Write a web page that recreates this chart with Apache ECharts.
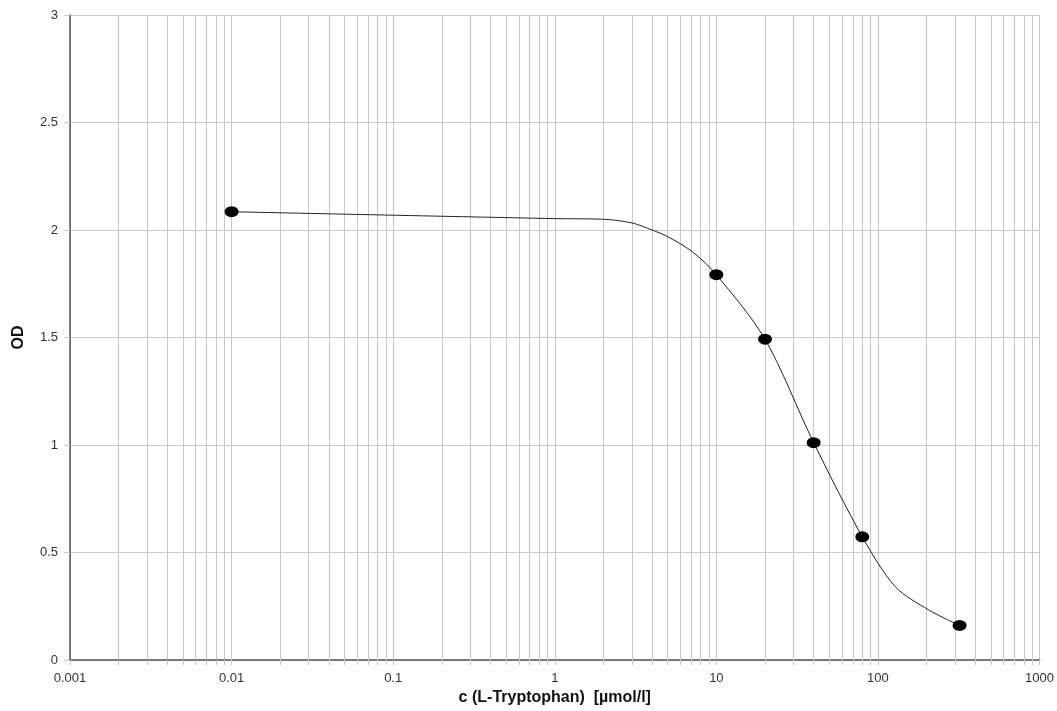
<!DOCTYPE html>
<html>
<head>
<meta charset="utf-8">
<script src="https://cdn.jsdelivr.net/npm/echarts@6/dist/echarts.min.js"></script>
<style>
  html, body { margin: 0; padding: 0; background: #fff; }
  #chart { width: 1057px; height: 711px; }
</style>
</head>
<body>
<div id="chart"></div>
<script>
// measured points
const concentrations = [0.01, 10, 20, 40, 80, 320];
const odValues = [2.085, 1.792, 1.492, 1.011, 0.573, 0.161];

// fitted curve
const curveX = [0.01, 1, 2, 3, 4, 5, 7.1, 10, 20, 40, 80, 128, 206, 320];
const curveY = [2.085, 2.053, 2.05, 2.033, 2.0, 1.969, 1.899, 1.792, 1.492, 1.011, 0.573, 0.341, 0.233, 0.161];

// axis ticks
const decades = [0.001, 0.01, 0.1, 1, 10, 100];
const majorTicks = [0.001, 0.01, 0.1, 1, 10, 100, 1000];
const minorSteps = [2, 3, 4, 5, 6, 7, 8, 9];
const yTicks = [0, 0.5, 1, 1.5, 2, 2.5, 3];

const chart = echarts.init(document.getElementById('chart'));

const gridColor = '#c8c8c8';
const axisColor = '#555';
const font = 'Arial, "Liberation Sans", sans-serif';

// log-spaced minor values (2..9 in each decade)
const minorValues = [];
decades.forEach(d => {
  minorSteps.forEach(m => minorValues.push(+(d * m).toPrecision(6)));
});
const allTicks = majorTicks.concat(minorValues).sort((a, b) => a - b);

const option = {
  animation: false,
  grid: { left: 70, right: 16, top: 15, bottom: 51, containLabel: false },
  xAxis: {
    type: 'log',
    logBase: 10,
    min: 0.001,
    max: 1000,
    name: 'c (L-Tryptophan)  [µmol/l]',
    nameLocation: 'middle',
    nameGap: 29,
    nameTextStyle: { fontFamily: font, fontSize: 16, fontWeight: 'bold', color: '#111' },
    axisLine: { show: true, lineStyle: { color: axisColor, width: 1.5 } },
    axisTick: { show: true, inside: false, length: 5, customValues: allTicks, lineStyle: { color: gridColor } },
    axisLabel: {
      fontFamily: font, fontSize: 13, color: '#333', margin: 12,
      customValues: majorTicks,
      formatter: function (v) { return String(+(+v).toPrecision(6)); }
    },
    splitLine: { show: true, lineStyle: { color: gridColor, width: 1 } }
  },
  yAxis: {
    type: 'value',
    min: 0,
    max: 3,
    interval: 0.5,
    name: 'OD',
    nameLocation: 'middle',
    nameGap: 43,
    nameTextStyle: { fontFamily: font, fontSize: 16, fontWeight: 'bold', color: '#111' },
    axisLine: { show: true, lineStyle: { color: axisColor, width: 1.5 } },
    axisTick: { show: true, length: 6, lineStyle: { color: gridColor } },
    axisLabel: {
      fontFamily: font, fontSize: 13, color: '#333', margin: 12,
      formatter: function (v) { return yTicks.indexOf(v) >= 0 ? String(v) : ''; }
    },
    splitLine: { show: true, lineStyle: { color: gridColor, width: 1 } }
  },
  series: [
    {
      name: 'fit',
      type: 'line',
      data: curveX.map((x, i) => [x, curveY[i]]),
      smooth: 0.3,
      showSymbol: false,
      symbol: 'none',
      lineStyle: { color: '#222', width: 1 },
      z: 2,
      markLine: {
        silent: true,
        symbol: ['none', 'none'],
        label: { show: false },
        lineStyle: { color: gridColor, type: 'solid', width: 1 },
        emphasis: { disabled: true },
        z: 1,
        data: minorValues.map(v => ({ xAxis: v }))
      }
    },
    {
      name: 'OD',
      type: 'scatter',
      data: concentrations.map((x, i) => [x, odValues[i]]),
      symbol: 'circle',
      symbolSize: [14, 11],
      itemStyle: { color: '#000', opacity: 1 },
      z: 3
    }
  ]
};

chart.setOption(option);
</script>
</body>
</html>
